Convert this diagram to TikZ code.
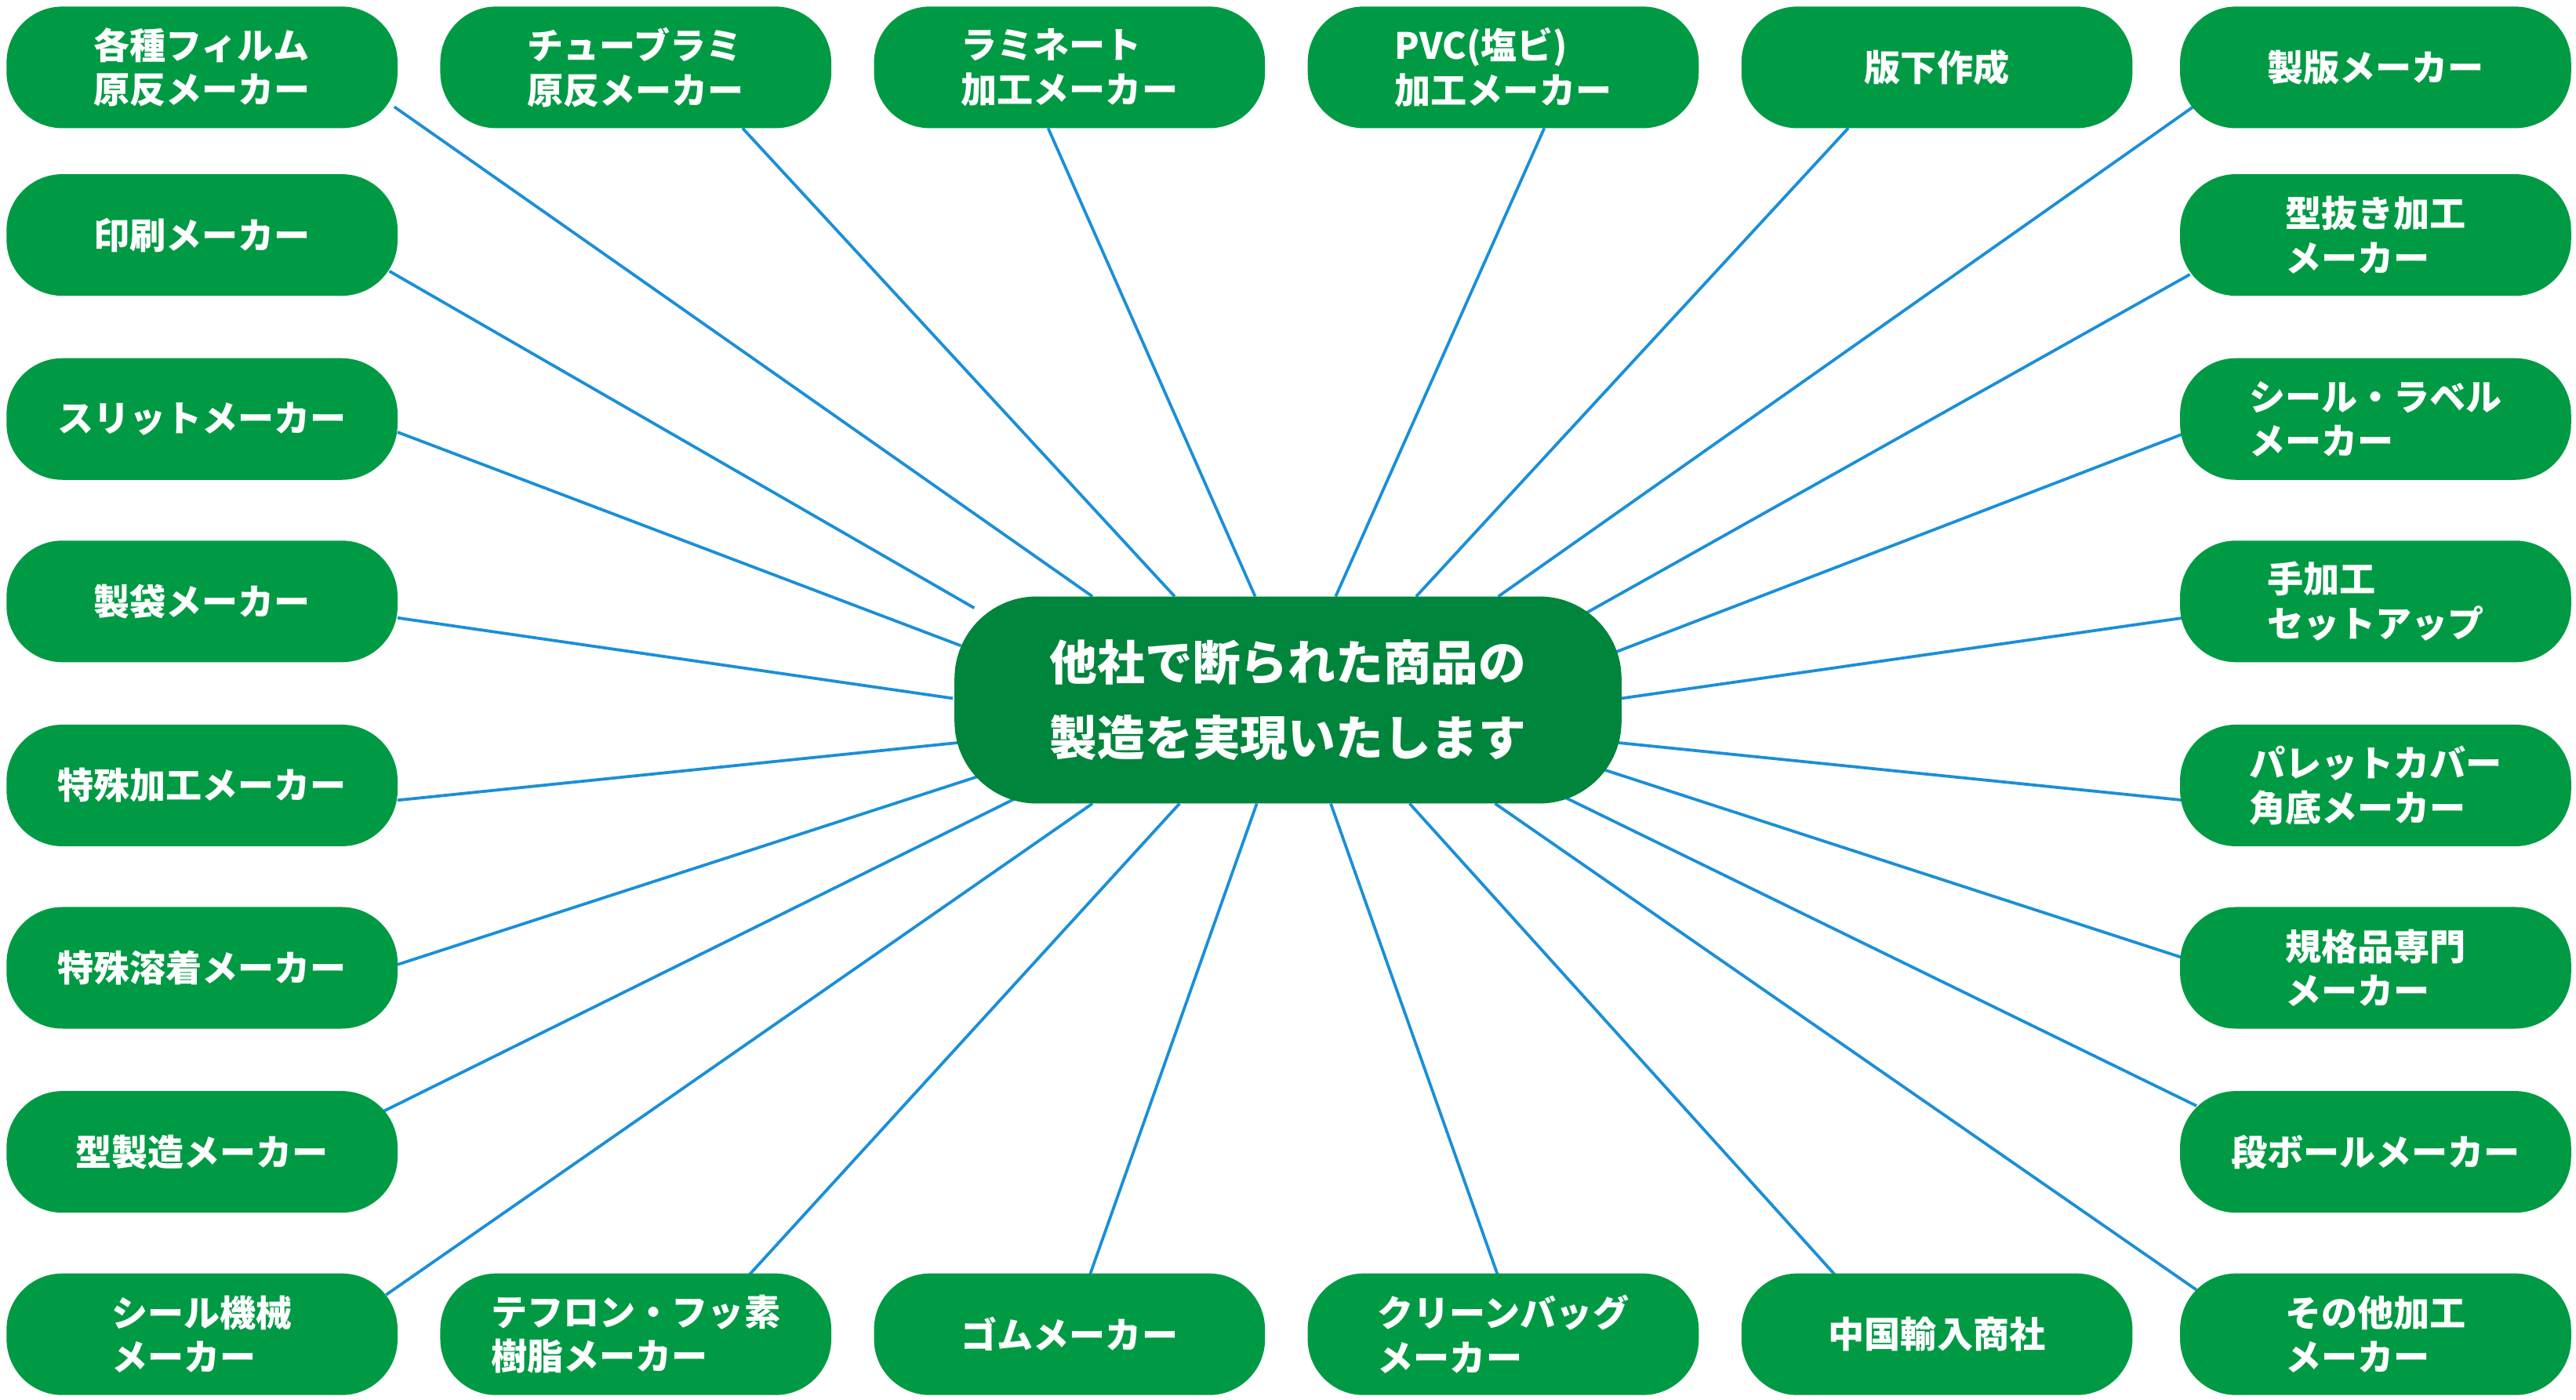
\documentclass[tikz,border=0pt]{standalone}
\usepackage{fontspec}
\newfontfamily\cjk{Noto Sans CJK JP}
\definecolor{boxg}{HTML}{009A44}
\definecolor{cg}{HTML}{00853C}
\definecolor{ln}{HTML}{1A8FD8}
\begin{document}
\begin{tikzpicture}[x=1pt,y=-1pt,
  box/.style={fill=boxg,rounded corners=34pt,minimum width=238pt,minimum height=74pt,text=white,font=\cjk\bfseries\fontsize{22}{27}\selectfont,align=left,inner sep=0pt},
  cen/.style={fill=cg,rounded corners=50pt,minimum width=406pt,minimum height=126pt,text=white,font=\cjk\bfseries\fontsize{29}{46}\selectfont,align=left,inner sep=0pt},
  ln/.style={draw=ln,line width=1.8pt}]
\useasboundingbox (0,0) rectangle (1568,852);
\foreach \a/\b in {240/65/665/363,452/78/715/363,638/78/764/363,940/78/813/363,1125/78/862/363,1335/65/912/363,
237/165/593/370,242/263/585/393,242/376/580/425,242/487/583/452,242/587/597/472,232/677/622/484,235/788/665/489,
455/777/718/489,663/777/765/489,912/777/810/489,1118/777/858/489,1337/785/910/489,
1333/167/962/375,1329/264/983/397,1329/376/987/425,1329/487/985/452,1329/583/975/468,1337/673/952/485}{}
\def\L#1#2#3#4{\draw[ln] (#1,#2) -- (#3,#4);}
\L{240}{65}{665}{363}\L{452}{78}{715}{363}\L{638}{78}{764}{363}\L{940}{78}{813}{363}\L{1125}{78}{862}{363}\L{1335}{65}{912}{363}
\L{237}{165}{593}{370}\L{242}{263}{585}{393}\L{242}{376}{580}{425}\L{242}{487}{583}{452}\L{242}{587}{597}{472}\L{232}{677}{622}{484}\L{235}{788}{665}{489}
\L{455}{777}{718}{489}\L{663}{777}{765}{489}\L{912}{777}{810}{489}\L{1118}{777}{858}{489}\L{1337}{785}{910}{489}
\L{1333}{167}{962}{375}\L{1329}{264}{983}{397}\L{1329}{376}{987}{425}\L{1329}{487}{985}{452}\L{1329}{583}{975}{468}\L{1337}{673}{952}{485}
\node[cen] (c) at (784,426) {他社で断られた商品の\\製造を実現いたします};
\node[box] (t1) at (123,41) {各種フィルム\\原反メーカー};
\node[box] (t2) at (387,41) {チューブラミ\\原反メーカー};
\node[box] (t3) at (651,41) {ラミネート\\加工メーカー};
\node[box] (t4) at (915,41) {PVC(塩ビ)\\加工メーカー};
\node[box] (t5) at (1179,41) {版下作成};
\node[box] (t6) at (1446,41) {製版メーカー};
\node[box] (l2) at (123,143) {印刷メーカー};
\node[box] (l3) at (123,255) {スリットメーカー};
\node[box] (l4) at (123,366) {製袋メーカー};
\node[box] (l5) at (123,478) {特殊加工メーカー};
\node[box] (l6) at (123,589) {特殊溶着メーカー};
\node[box] (l7) at (123,701) {型製造メーカー};
\node[box] (b1) at (123,812) {シール機械\\メーカー};
\node[box] (b2) at (387,812) {テフロン・フッ素\\樹脂メーカー};
\node[box] (b3) at (651,812) {ゴムメーカー};
\node[box] (b4) at (915,812) {クリーンバッグ\\メーカー};
\node[box] (b5) at (1179,812) {中国輸入商社};
\node[box] (b6) at (1446,812) {その他加工\\メーカー};
\node[box] (r2) at (1446,143) {型抜き加工\\メーカー};
\node[box] (r3) at (1446,255) {シール・ラベル\\メーカー};
\node[box] (r4) at (1446,366) {手加工\\セットアップ};
\node[box] (r5) at (1446,478) {パレットカバー\\角底メーカー};
\node[box] (r6) at (1446,589) {規格品専門\\メーカー};
\node[box] (r7) at (1446,701) {段ボールメーカー};
\end{tikzpicture}
\end{document}
